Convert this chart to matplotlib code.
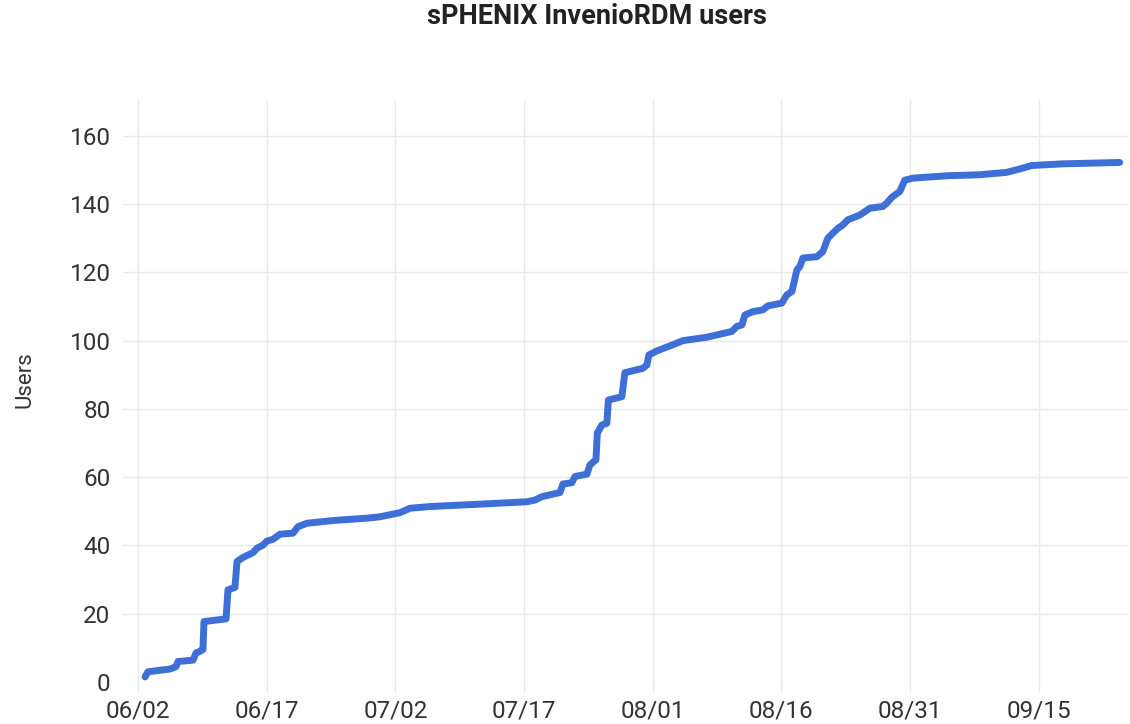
import pandas as pd
import matplotlib
matplotlib.use("Agg")
import matplotlib.pyplot as plt
import matplotlib.dates as mdates

plt.rcParams['font.family'] = ['Roboto', 'DejaVu Sans']

# --- data ---
start = pd.Timestamp('2024-06-02')
days = [0.82, 1.17, 3.73, 4.43, 4.66, 6.41, 6.76, 7.23, 7.57, 7.69, 10.26, 10.49,
        11.30, 11.54, 12.24, 13.40, 13.87, 14.57, 15.03, 15.73, 16.55, 18.06, 18.65,
        19.69, 22.72, 26.69, 28.20, 30.53, 31.70, 34.03, 39.86, 45.33, 46.27, 47.08,
        49.18, 49.53, 50.58, 50.93, 52.33, 52.68, 53.38, 53.54, 54.07, 54.65, 54.83,
        56.40, 56.75, 58.85, 59.32, 59.55, 60.48, 62.35, 63.51, 66.31, 69.22, 69.81,
        70.39, 70.74, 71.67, 72.84, 73.42, 75.05, 75.63, 76.22, 76.45, 76.80, 77.15,
        77.50, 79.13, 79.83, 80.41, 81.00, 81.58, 82.16, 82.74, 84.14, 85.31, 86.82,
        87.29, 87.87, 88.80, 89.38, 90.32, 94.28, 98.13, 101.27, 102.78, 104.18,
        107.79, 114.43]
users = [1.5, 3.0, 3.8, 4.5, 6.0, 6.4, 8.5, 9.0, 9.5, 17.7, 18.5, 27.0,
         27.7, 35.3, 36.5, 37.9, 39.2, 40.1, 41.3, 41.8, 43.3, 43.6, 45.5,
         46.5, 47.3, 48.0, 48.4, 49.6, 50.9, 51.4, 52.1, 52.8, 53.3, 54.3,
         55.5, 58.0, 58.4, 60.2, 60.9, 63.6, 65.1, 72.9, 75.3, 75.8, 82.6,
         83.6, 90.6, 91.9, 92.9, 95.8, 97.0, 98.8, 100.0, 101.0, 102.7, 104.2,
         104.6, 107.5, 108.5, 109.0, 110.2, 111.0, 113.4, 114.4, 116.8, 120.7, 121.7,
         124.2, 124.6, 126.1, 130.0, 131.5, 132.9, 133.9, 135.4, 136.8, 138.8, 139.3,
         140.3, 142.0, 143.7, 147.0, 147.6, 148.3, 148.6, 149.3, 150.3, 151.3,
         151.8, 152.2]
yticks = [0, 20, 40, 60, 80, 100, 120, 140, 160]
tick_days = [0, 15, 30, 45, 60, 75, 90, 105]

dates = [start + pd.Timedelta(days=d) for d in days]
tick_dates = [start + pd.Timedelta(days=d) for d in tick_days]

fig = plt.figure(figsize=(11.3, 7.24), dpi=100)
ax = fig.add_axes([123 / 1130, 42 / 724, 1005 / 1130, 582 / 724])

ax.plot(dates, users, color='#3d6fd6', lw=5, solid_capstyle='round',
        solid_joinstyle='round', zorder=3)

ax.set_xlim(start - pd.Timedelta(days=1.75), start + pd.Timedelta(days=115.4))
ax.set_ylim(0, 170.5)
ax.set_yticks(yticks)
ax.set_xticks(tick_dates)
ax.xaxis.set_major_formatter(mdates.DateFormatter('%m/%d'))

ax.grid(True, color='#e8e8e8', lw=1)
for s in ax.spines.values():
    s.set_visible(False)
ax.tick_params(axis='x', length=7.5, width=1, color='#e8e8e8', pad=5,
               labelsize=17.5, labelcolor='#333333')
ax.tick_params(axis='y', length=0, pad=9, labelsize=17.5, labelcolor='#333333')

# y label and title placed in figure pixels
fig.text(25 / 1130, 1 - 380 / 724, 'Users', rotation=90, ha='center', va='center',
         fontsize=16, color='#333333')
fig.text(597 / 1130, 1 - 16 / 724, 'sPHENIX InvenioRDM users', ha='center', va='center',
         fontsize=19.5, fontweight='bold', color='#222222')

fig.savefig('out.png', dpi=100)
